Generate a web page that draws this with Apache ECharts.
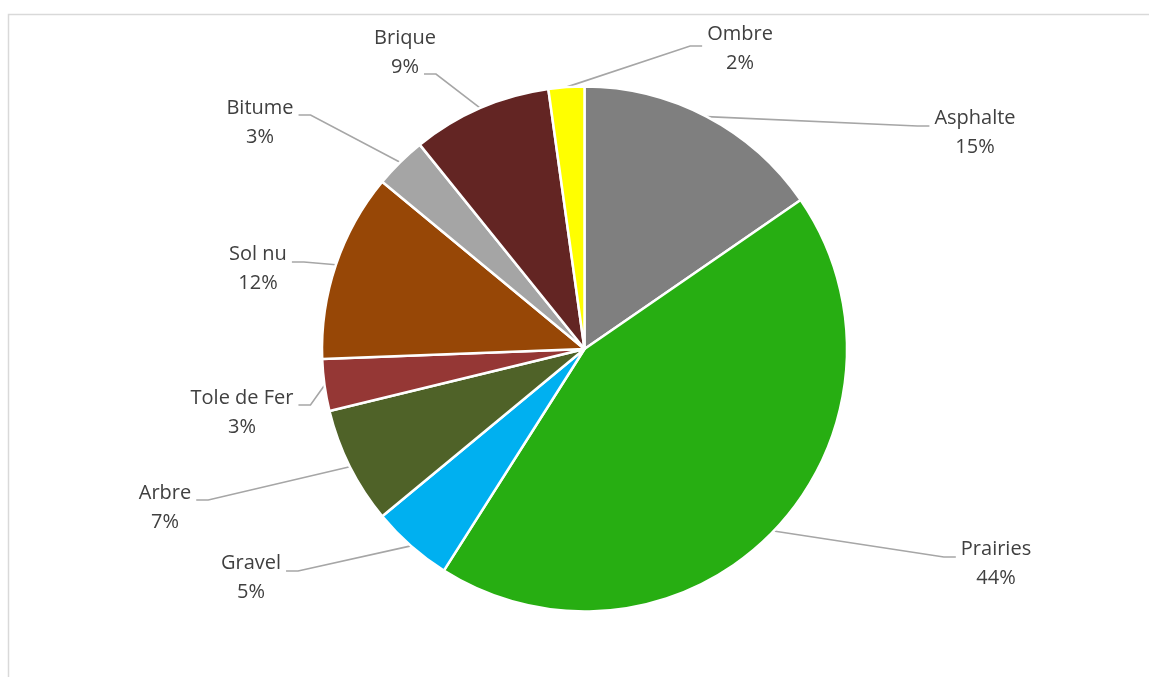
<!DOCTYPE html>
<html>
<head>
<meta charset="utf-8">
<script src="https://cdn.jsdelivr.net/npm/echarts@6/dist/echarts.min.js"></script>
<style>
  html, body { margin: 0; padding: 0; background: #ffffff; }
  #chart { width: 1149px; height: 677px; }
</style>
</head>
<body>
<div id="chart"></div>
<script>
// Land-cover classes and their share of the surface (%)
const categories = ['Asphalte', 'Prairies', 'Gravel', 'Arbre', 'Tole de Fer', 'Sol nu', 'Bitume', 'Brique', 'Ombre'];
const shares = [15.4, 43.6, 5.0, 7.2, 3.2, 11.6, 3.2, 8.6, 2.2];
const sliceColors = ['#7f7f7f', '#27ae12', '#00b0f0', '#4f6228', '#953735', '#974706', '#a5a5a5', '#632523', '#ffff00'];

// Label placement: centre x of the text block, centre y of the name row,
// the edge the leader line arrives at, which row (0 name, 1 percent) it points to,
// and how far below that row's centre the line ends.
const labelSpots = [
  { x: 975, y: 118, edge: 'left',  row: 0, drop: 8 },
  { x: 996, y: 549, edge: 'left',  row: 0, drop: 8 },
  { x: 251, y: 563, edge: 'right', row: 0, drop: 8 },
  { x: 165, y: 493, edge: 'right', row: 0, drop: 7 },
  { x: 242, y: 398, edge: 'right', row: 0, drop: 7 },
  { x: 258, y: 254, edge: 'right', row: 0, drop: 8 },
  { x: 260, y: 108, edge: 'right', row: 0, drop: 7 },
  { x: 405, y: 38,  edge: 'right', row: 1, drop: 7 },
  { x: 740, y: 34,  edge: 'left',  row: 0, drop: 12 }
];

const FONT_FAMILY = '"Open Sans", "Noto Sans", sans-serif';
const FONT_SIZE = 20;
const LINE_H = 29;
const PIE_CENTER = [584.5, 349];
const PIE_RADIUS = 262.5;

const measureCtx = document.createElement('canvas').getContext('2d');
measureCtx.font = FONT_SIZE + 'px ' + FONT_FAMILY;
function textWidth(s) { return measureCtx.measureText(s).width; }

// Fallback anchor on the rim at the middle of a slice (clockwise from 12 o'clock)
function rimPoint(index) {
  const total = shares.reduce((a, b) => a + b, 0);
  let before = 0;
  for (let i = 0; i < index; i++) before += shares[i];
  const mid = (before + shares[index] / 2) / total * Math.PI * 2;
  return [PIE_CENTER[0] + PIE_RADIUS * Math.sin(mid), PIE_CENTER[1] - PIE_RADIUS * Math.cos(mid)];
}

const chart = echarts.init(document.getElementById('chart'), null, { renderer: 'canvas' });

chart.setOption({
  animation: false,
  backgroundColor: '#ffffff',
  graphic: [{
    type: 'rect',
    silent: true,
    shape: { x: 8.5, y: 14.5, width: 1200, height: 700 },
    style: { fill: 'none', stroke: '#d9d9d9', lineWidth: 1.5 }
  }],
  series: [{
    type: 'pie',
    center: PIE_CENTER,
    radius: PIE_RADIUS,
    startAngle: 90,
    clockwise: true,
    percentPrecision: 0,
    avoidLabelOverlap: false,
    emphasis: { disabled: true },
    itemStyle: { borderColor: '#ffffff', borderWidth: 2.5 },
    label: {
      show: true,
      position: 'outside',
      formatter: '{b}\n{d}%',
      fontFamily: FONT_FAMILY,
      fontSize: FONT_SIZE,
      lineHeight: LINE_H,
      color: '#404040'
    },
    labelLine: {
      show: true,
      lineStyle: { color: '#a6a6a6', width: 1.6 }
    },
    labelLayout: function (p) {
      const spot = labelSpots[p.dataIndex];
      const rows = String(p.text).split('\n');
      const half = textWidth(rows[spot.row] || rows[0]) / 2;
      const ex = spot.edge === 'left' ? spot.x - half - 5 : spot.x + half + 5;
      const ey = spot.y + spot.row * LINE_H + spot.drop;
      const bx = spot.edge === 'left' ? ex - 12 : ex + 12;
      const start = (p.labelLinePoints && p.labelLinePoints[0]) || rimPoint(p.dataIndex);
      return {
        x: spot.x,
        y: spot.y + LINE_H / 2,
        align: 'center',
        verticalAlign: 'middle',
        hideOverlap: false,
        labelLinePoints: [start, [bx, ey], [ex, ey]]
      };
    },
    data: categories.map((name, i) => ({
      name: name,
      value: shares[i],
      itemStyle: { color: sliceColors[i] }
    }))
  }]
});
</script>
</body>
</html>
